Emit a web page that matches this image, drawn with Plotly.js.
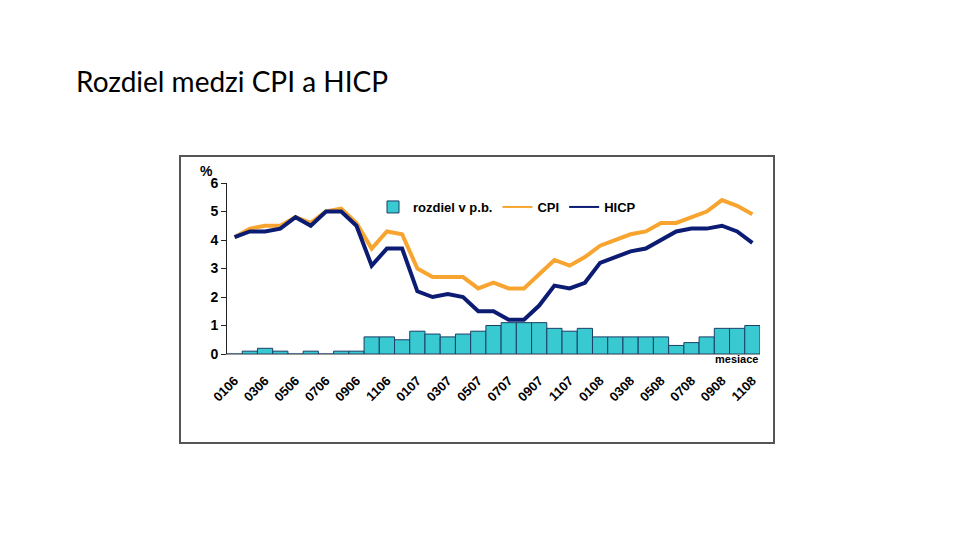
<!DOCTYPE html>
<html>
<head>
<meta charset="utf-8">
<script src="https://cdn.plot.ly/plotly-3.0.1.min.js"></script>
<style>
html,body{margin:0;padding:0;background:#fff;}
#chart{width:960px;height:540px;}
</style>
</head>
<body>
<div id="chart"></div>
<script>
const months = ['0106','0206','0306','0406','0506','0606','0706','0806','0906','1006','1106','1206',
                '0107','0207','0307','0407','0507','0607','0707','0807','0907','1007','1107','1207',
                '0108','0208','0308','0408','0508','0608','0708','0808','0908','1008','1108'];
const tickLabels = ['0106','0306','0506','0706','0906','1106','0107','0307','0507','0707','0907','1107',
                    '0108','0308','0508','0708','0908','1108'];
const cpi  = [4.1,4.4,4.5,4.5,4.8,4.6,5.0,5.1,4.6,3.7,4.3,4.2,3.0,2.7,2.7,2.7,2.3,2.5,2.3,2.3,2.8,3.3,3.1,3.4,3.8,4.0,4.2,4.3,4.6,4.6,4.8,5.0,5.4,5.2,4.9];
const hicp = [4.1,4.3,4.3,4.4,4.8,4.5,5.0,5.0,4.5,3.1,3.7,3.7,2.2,2.0,2.1,2.0,1.5,1.5,1.2,1.2,1.7,2.4,2.3,2.5,3.2,3.4,3.6,3.7,4.0,4.3,4.4,4.4,4.5,4.3,3.9];
const diff = [0,0.1,0.2,0.1,0,0.1,0,0.1,0.1,0.6,0.6,0.5,0.8,0.7,0.6,0.7,0.8,1.0,1.1,1.1,1.1,0.9,0.8,0.9,0.6,0.6,0.6,0.6,0.6,0.3,0.4,0.6,0.9,0.9,1.0];
const seriesNames = ['rozdiel v p.b.','CPI','HICP'];

const W = 960, H = 540;
const px = v => v / W;
const py = v => 1 - v / H;
const cpiColor = '#F7A530', hicpColor = '#0C1C73';

const traces = [
  {type:'bar', x: months, y: diff, name: seriesNames[0],
   marker:{color:'#38C9D1', line:{color:'#1B3F66', width:1}}},
  {type:'scatter', mode:'lines', x: months, y: cpi, name: seriesNames[1], showlegend:false,
   line:{color:cpiColor, width:4}},
  {type:'scatter', mode:'lines', x: months, y: hicp, name: seriesNames[2], showlegend:false,
   line:{color:hicpColor, width:4}},
  // legend entries with thin lines, as in the reference legend
  {type:'scatter', mode:'lines', x:[null], y:[null], name: seriesNames[1],
   line:{color:cpiColor, width:2}},
  {type:'scatter', mode:'lines', x:[null], y:[null], name: seriesNames[2],
   line:{color:hicpColor, width:2}}
];

const layout = {
  width: W, height: H,
  margin:{l:0,r:0,t:0,b:0},
  paper_bgcolor:'#fff', plot_bgcolor:'#fff',
  bargap: 0,
  showlegend: true,
  legend:{orientation:'h', x:px(373), y:py(207), xanchor:'left', yanchor:'middle',
          font:{family:'Liberation Sans, Arial, sans-serif', size:13, color:'#000', weight:'bold'},
          bgcolor:'rgba(0,0,0,0)', traceorder:'normal'},
  xaxis:{domain:[px(227), px(760)], anchor:'y', type:'category',
         range:[-0.5, 34.5], tickmode:'array', tickvals: tickLabels, ticktext: tickLabels,
         tickangle:-45, ticks:'', ticklabelstandoff:13, showgrid:false, zeroline:false,
         showline:true, linecolor:'#999', linewidth:1,
         tickfont:{family:'Liberation Sans, Arial, sans-serif', size:13, color:'#000', weight:'bold'}},
  yaxis:{domain:[py(354), py(183)], anchor:'x', range:[0,6], dtick:1,
         ticks:'outside', ticklen:5, tickcolor:'#222', showgrid:false, zeroline:false,
         showline:true, linecolor:'#222', linewidth:1,
         tickfont:{family:'Liberation Sans, Arial, sans-serif', size:14, color:'#000', weight:'bold'}},
  shapes:[
    {type:'rect', xref:'paper', yref:'paper', x0:px(180), x1:px(774), y0:py(443), y1:py(156),
     line:{color:'#555', width:2}, fillcolor:'rgba(0,0,0,0)', layer:'below'}
  ],
  annotations:[
    {text:'Rozdiel medzi CPI a HICP', xref:'paper', yref:'paper', x:px(74), y:py(81),
     xanchor:'left', yanchor:'middle', showarrow:false,
     font:{family:'Lato, sans-serif', size:28, color:'#000'}},
    {text:'<b>%</b>', xref:'paper', yref:'paper', x:px(206), y:py(171),
     xanchor:'center', yanchor:'middle', showarrow:false,
     font:{family:'Liberation Sans, Arial, sans-serif', size:14, color:'#000'}},
    {text:'<b>mesiace</b>', xref:'paper', yref:'paper', x:px(760), y:py(359),
     xanchor:'right', yanchor:'middle', showarrow:false,
     font:{family:'Liberation Sans, Arial, sans-serif', size:11, color:'#000'}}
  ]
};

Plotly.newPlot('chart', traces, layout, {displayModeBar:false, staticPlot:true});
</script>
</body>
</html>
